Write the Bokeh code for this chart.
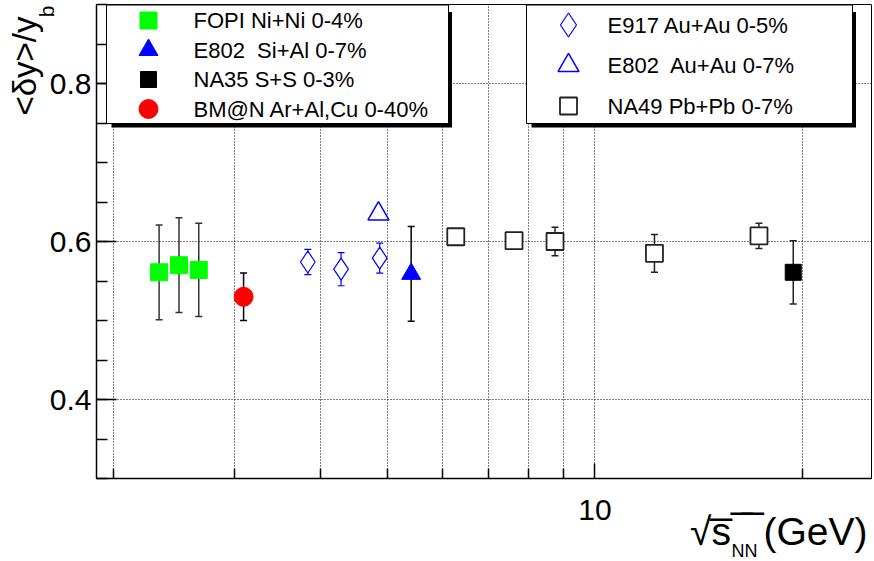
from bokeh.plotting import figure
from bokeh.models import Range1d, LinearScale, FixedTicker, BasicTickFormatter, Title
from bokeh.core.properties import value
from bokeh.embed import file_html
from bokeh.resources import INLINE

# ---------------- data ----------------
fopi_x = [2.33, 2.49, 2.66]
fopi_y = [0.561, 0.570, 0.564]
fopi_err = [0.060, 0.060, 0.059]

e802si_x = [5.41]
e802si_y = [0.559]
e802si_err = [0.060]

na35_x = [19.4]
na35_y = [0.561]
na35_err = [0.040]

bmn_x = [3.09]
bmn_y = [0.530]
bmn_err = [0.030]

e917_x = [3.83, 4.28, 4.87]
e917_y = [0.574, 0.565, 0.579]
e917_err = [0.016, 0.021, 0.019]

e802au_x = [4.85]
e802au_y = [0.635]

na49_x = [6.28, 7.63, 8.75, 12.2, 17.3]
na49_y = [0.606, 0.601, 0.600, 0.585, 0.607]
na49_err = [0.008, 0.008, 0.018, 0.024, 0.016]

x_major_ticks = [10]
x_minor_ticks = [2, 3, 4, 5, 6, 7, 8, 9, 20]
x_grid_ticks = [2, 3, 4, 5, 6, 7, 8, 9, 10, 20]
y_major_ticks = [0.4, 0.6, 0.8]
y_minor_ticks = [0.30, 0.35, 0.40, 0.45, 0.50, 0.55, 0.60, 0.65, 0.70, 0.75, 0.80, 0.85, 0.90]

NB = "\u00a0"
legend1_labels = ["FOPI Ni+Ni 0-4%", "E802" + NB + " Si+Al 0-7%", "NA35 S+S 0-3%", "BM@N Ar+Al,Cu 0-40%"]
legend2_labels = ["E917 Au+Au 0-5%", "E802" + NB + " Au+Au 0-7%", "NA49 Pb+Pb 0-7%"]

x_title_main = "\u221as\u0305" + (NB + "\u0305") * 2 + NB + "(GeV)"
x_title_sub = "NN"
y_title_main = "<\u03b4y>/y"
y_title_sub = "b"

FONT = "Liberation Sans"
GREEN = "#00ff00"
BLUE = "#0000ff"
RED = "#ff0000"

FRAME_L, FRAME_R, FRAME_T, FRAME_B = 96, 3, 4, 83
W, H = 874, 561
FW, FH = W - FRAME_L - FRAME_R, H - FRAME_T - FRAME_B

p = figure(width=W, height=H, x_axis_type="log",
           x_range=Range1d(1.89, 25.2), y_range=Range1d(0.3, 0.9),
           output_backend="svg", toolbar_location=None,
           min_border_left=FRAME_L, min_border_right=FRAME_R,
           min_border_top=FRAME_T, min_border_bottom=FRAME_B)
p.background_fill_color = "white"
p.border_fill_color = "white"
p.outline_line_color = "black"
p.outline_line_width = 1

# pixel-like ranges for the legend boxes (origin at frame top-left)
p.extra_x_ranges = {"px": Range1d(0, FW)}
p.extra_y_ranges = {"px": Range1d(FH, 0)}
p.extra_x_scales = {"px": LinearScale()}
p.extra_y_scales = {"px": LinearScale()}

# ---------------- axes ----------------
xa = p.xaxis[0]
xa.ticker = FixedTicker(ticks=x_major_ticks, minor_ticks=x_minor_ticks)
xa.formatter = BasicTickFormatter()
xa.major_tick_in = 15
xa.major_tick_out = 0
xa.minor_tick_in = 10
xa.minor_tick_out = 0
xa.major_label_standoff = 21
xa.major_label_text_font = FONT
xa.major_label_text_font_size = "30px"
xa.major_label_text_color = "black"
xa.axis_line_color = "black"
xa.axis_line_width = 1.5
xa.major_tick_line_width = 1.5
xa.minor_tick_line_width = 1.5

ya = p.yaxis[0]
ya.ticker = FixedTicker(ticks=y_major_ticks, minor_ticks=y_minor_ticks)
ya.major_tick_in = 20
ya.major_tick_out = 0
ya.minor_tick_in = 11
ya.minor_tick_out = 0
ya.major_label_standoff = 5
ya.major_label_text_font = FONT
ya.major_label_text_font_size = "30px"
ya.major_label_text_color = "black"
ya.axis_line_color = "black"
ya.axis_line_width = 1.5
ya.major_tick_line_width = 1.5
ya.minor_tick_line_width = 1.5

p.xgrid.ticker = FixedTicker(ticks=x_grid_ticks)
p.ygrid.ticker = FixedTicker(ticks=y_major_ticks)
for g in (p.xgrid, p.ygrid):
    g.grid_line_color = "black"
    g.grid_line_dash = "1 2"
    g.grid_line_width = 1


# ---------------- axis titles (side-panel titles) ----------------
def side_title(text, side, size, align, offset, valign, standoff, font=FONT):
    t = Title(text=text, align=align, offset=offset, vertical_align=valign,
              standoff=standoff, text_font=font, text_font_size=size,
              text_font_style="normal", text_color="black")
    p.add_layout(t, side)


side_title(x_title_main, "below", "39px", "right", 4, "top", -26)
side_title(x_title_sub, "below", "18px", "left", 635, "middle", -4)
side_title(y_title_sub, "left", "21px", "right", 1, "bottom", -23)
side_title(y_title_main, "left", "33px", "right", 12, "bottom", 3)


# ---------------- data marks ----------------
def errbars(xs, ys, es, color, lw=1.5, cap=7):
    lo = [y - e for y, e in zip(ys, es)]
    hi = [y + e for y, e in zip(ys, es)]
    p.segment(x0=xs, y0=lo, x1=xs, y1=hi, line_color=color, line_width=lw)
    p.scatter(xs, lo, marker="dash", size=cap, line_color=color, line_width=lw)
    p.scatter(xs, hi, marker="dash", size=cap, line_color=color, line_width=lw)


errbars(fopi_x, fopi_y, fopi_err, "#333333")
errbars(bmn_x, bmn_y, bmn_err, "black")
errbars(e917_x, e917_y, e917_err, BLUE, lw=1.2)
errbars(e802si_x, e802si_y, e802si_err, "black")
errbars(na49_x, na49_y, na49_err, "#222222")
errbars(na35_x, na35_y, na35_err, "#222222")

p.scatter(fopi_x, fopi_y, marker="square", size=17, fill_color=GREEN, line_color=GREEN)
p.scatter(bmn_x, bmn_y, marker="circle", size=19, fill_color=RED, line_color=RED)
p.scatter(e917_x, e917_y, marker="diamond", size=22, fill_color="white", line_color=BLUE, line_width=1.2)
p.scatter(e802au_x, e802au_y, marker="triangle", size=21, fill_color="white", line_color=BLUE, line_width=1.5)
p.scatter(e802si_x, e802si_y, marker="triangle", size=19, fill_color=BLUE, line_color=BLUE)
p.scatter(na49_x, na49_y, marker="square", size=17, fill_color="white", line_color="#222222", line_width=1.8)
p.scatter(na35_x, na35_y, marker="square", size=16, fill_color="black", line_color="black")


# ---------------- legends ----------------
def legend_box(left, right, top, bottom):
    p.quad(left=[left + 5], right=[right + 3.5], top=[top + 7], bottom=[bottom + 4],
           fill_color="black", line_color=None,
           x_range_name="px", y_range_name="px", level="overlay")
    p.quad(left=[left], right=[right], top=[top], bottom=[bottom],
           fill_color="white", line_color="black", line_width=1,
           x_range_name="px", y_range_name="px", level="overlay")


legend_box(10, 352, 0.5, 119)
legend_box(430, 756, 0.5, 119)

leg1_rows = [16, 45.5, 75, 104.5]
leg1_mx, leg1_tx = 52, 97
p.scatter([leg1_mx], [leg1_rows[0]], marker="square", size=17, fill_color=GREEN, line_color=GREEN,
          x_range_name="px", y_range_name="px", level="overlay")
p.scatter([leg1_mx], [leg1_rows[1]], marker="triangle", size=19, fill_color=BLUE, line_color=BLUE,
          x_range_name="px", y_range_name="px", level="overlay")
p.scatter([leg1_mx], [leg1_rows[2]], marker="square", size=16, fill_color="black", line_color="black",
          x_range_name="px", y_range_name="px", level="overlay")
p.scatter([leg1_mx], [leg1_rows[3]], marker="circle", size=19, fill_color=RED, line_color=RED,
          x_range_name="px", y_range_name="px", level="overlay")
p.text(x=[leg1_tx] * 4, y=leg1_rows, text=legend1_labels, text_font=value(FONT),
       text_font_size="22px", text_baseline="middle", text_align="left", text_color="black",
       x_range_name="px", y_range_name="px", level="overlay")

leg2_rows = [20.5, 61, 101.5]
leg2_mx, leg2_tx = 472, 511
p.scatter([leg2_mx], [leg2_rows[0]], marker="diamond", size=24, fill_color="white", line_color=BLUE,
          line_width=1.2, x_range_name="px", y_range_name="px", level="overlay")
p.scatter([leg2_mx], [leg2_rows[1]], marker="triangle", size=21, fill_color="white", line_color=BLUE,
          line_width=1.5, x_range_name="px", y_range_name="px", level="overlay")
p.scatter([leg2_mx], [leg2_rows[2]], marker="square", size=17, fill_color="white", line_color="#222222",
          line_width=1.8, x_range_name="px", y_range_name="px", level="overlay")
p.text(x=[leg2_tx] * 3, y=leg2_rows, text=legend2_labels, text_font=value(FONT),
       text_font_size="22px", text_baseline="middle", text_align="left", text_color="black",
       x_range_name="px", y_range_name="px", level="overlay")

open("out.html", "w").write(file_html(p, INLINE))
